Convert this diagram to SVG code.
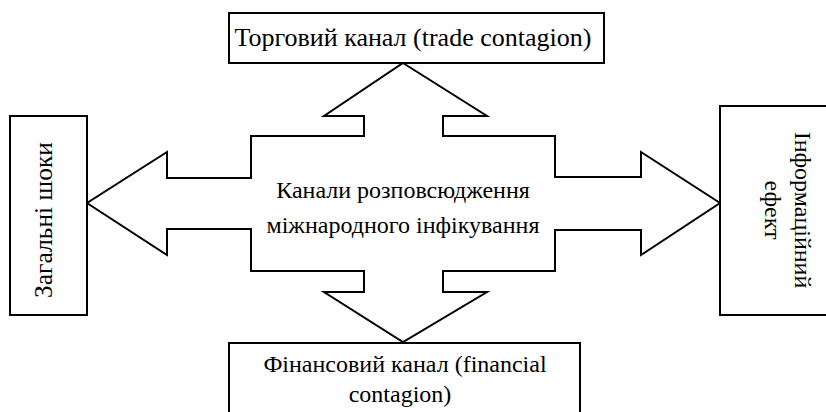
<svg xmlns="http://www.w3.org/2000/svg" width="826" height="412" viewBox="0 0 826 412">
<style>
.box{fill:#fff;stroke:#000;stroke-width:2}
.t{font-family:'Liberation Serif','Times New Roman',serif;font-size:24px;fill:#000;text-anchor:middle}
.arr{fill:#fff;stroke:#000;stroke-width:2;stroke-linejoin:miter}
</style>
<rect width="826" height="412" fill="#fff"/>
<g id="connectors">
<polygon class="arr" points="403,63 487,116 443,116 443,136 555,136 555,177 641,177 641,152 720,203 641,255 641,230 555,230 555,271 443,271 443,292 487,292 403,342 324,292 364,292 364,271 251,271 251,229 167,229 167,255 87,203 167,152 167,178 251,178 251,136 364,136 364,116 324,116"/>
</g>
<g id="center">
<text class="t" x="403" y="198">Канали розповсюдження</text>
<text class="t" x="403" y="233">міжнародного інфікування</text>
</g>
<g id="trade">
<rect class="box" x="229" y="13" width="375" height="50"/>
<text class="t" x="413" y="46" style="font-size:26px">Торговий канал (trade contagion)</text>
</g>
<g id="financial">
<rect class="box" x="229" y="343" width="351" height="80"/>
<text class="t" x="405" y="372">Фінансовий канал (financial</text>
<text class="t" x="400" y="402">contagion)</text>
</g>
<g id="common">
<rect class="box" x="10" y="116" width="77" height="199"/>
<text class="t" transform="translate(52,220) rotate(-90)" style="font-size:25.5px">Загальні шоки</text>
</g>
<g id="info">
<rect class="box" x="720" y="106" width="120" height="209"/>
<text class="t" transform="translate(795,210) rotate(90)">Інформаційний</text>
<text class="t" transform="translate(765,210) rotate(90)">ефект</text>
</g>
</svg>
